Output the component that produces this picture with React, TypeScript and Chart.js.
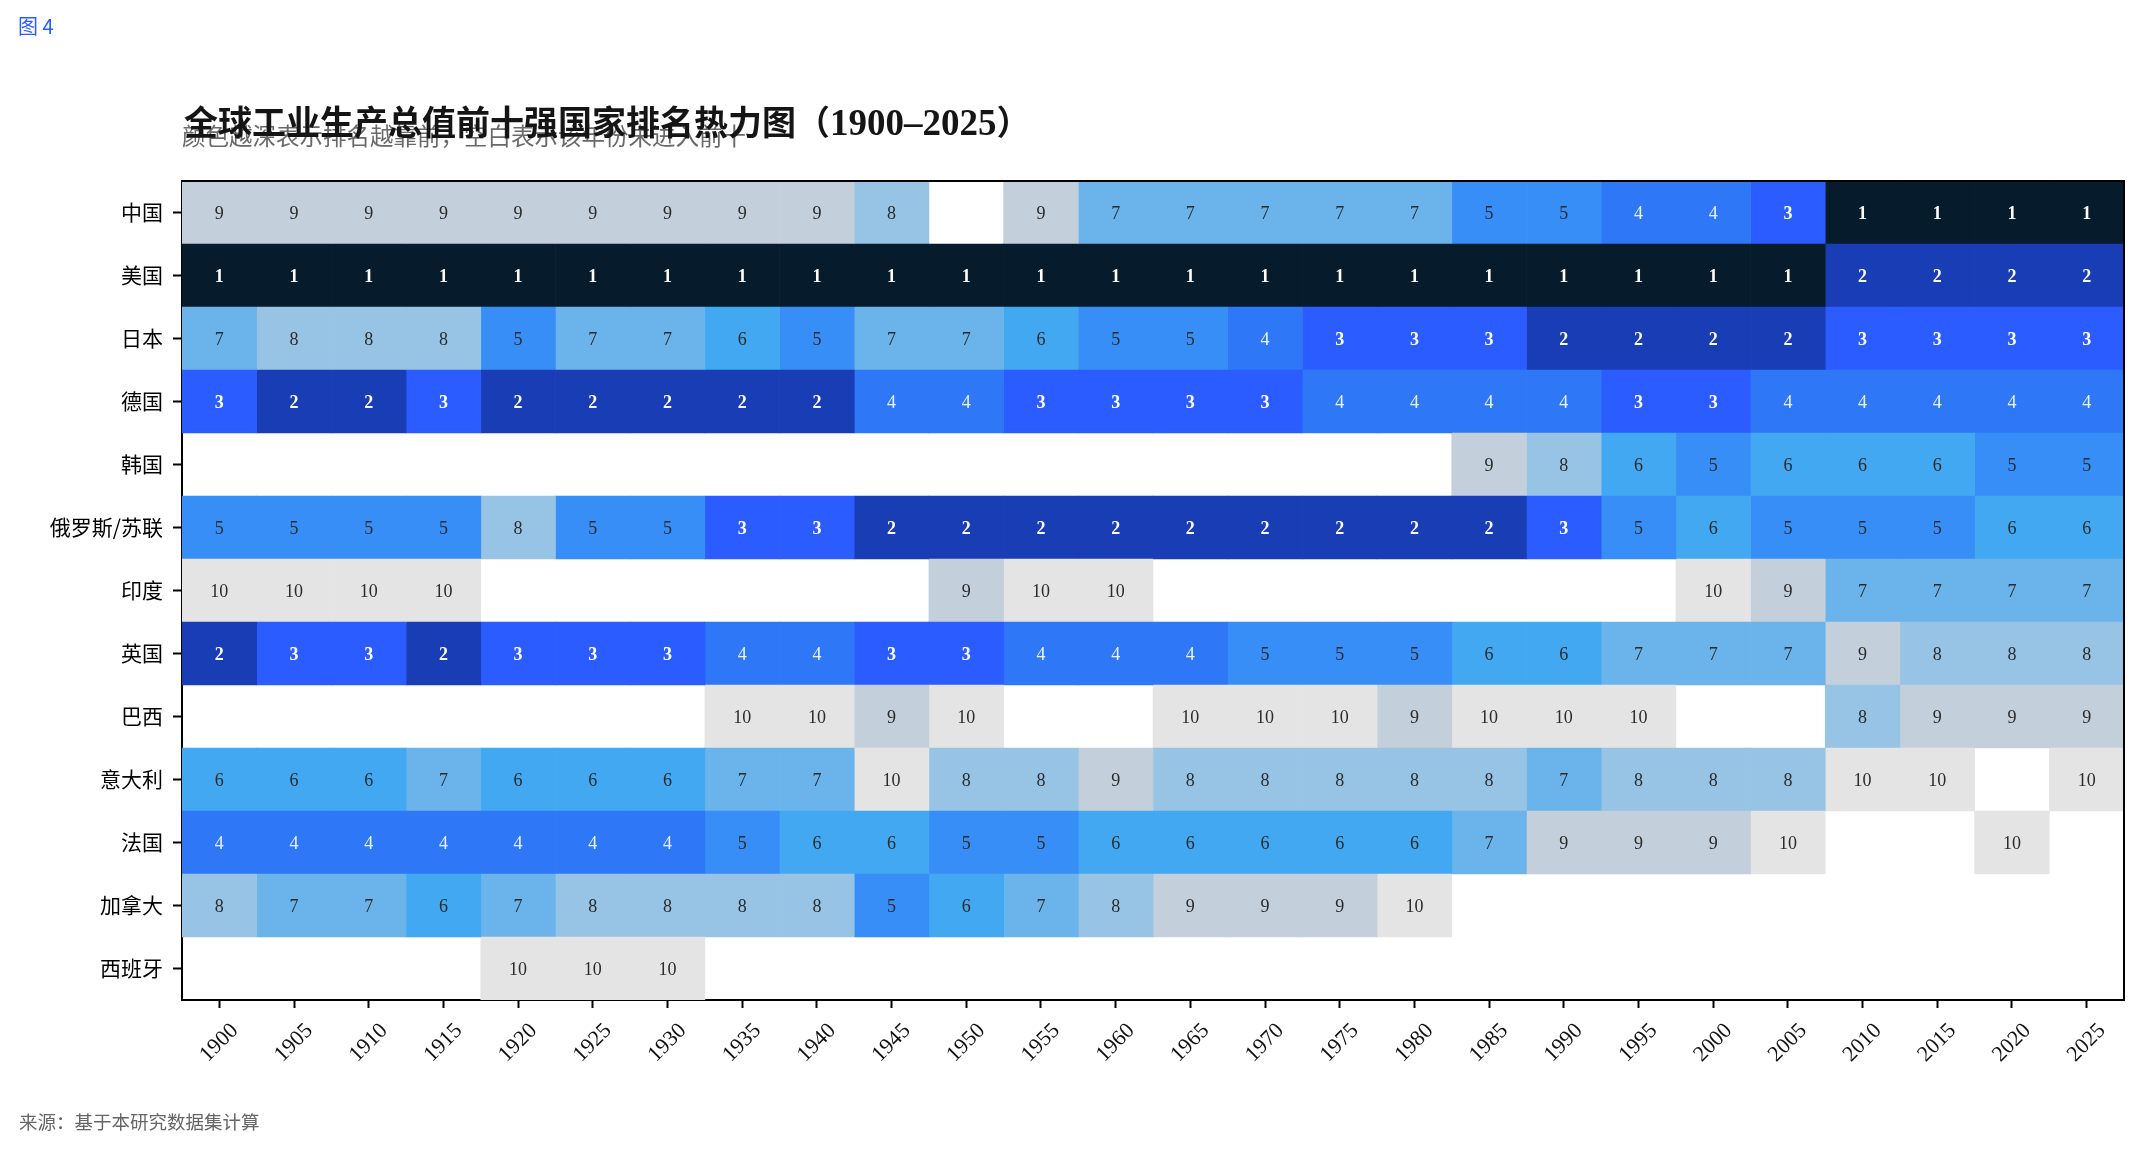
import { useEffect, useRef } from "react";
import { Chart, registerables } from "chart.js";

Chart.register(...registerables);

const W = 2142;
const H = 1152;

// Year columns of the heat map
const years = [
  "1900", "1905", "1910", "1915", "1920", "1925", "1930", "1935", "1940",
  "1945", "1950", "1955", "1960", "1965", "1970", "1975", "1980", "1985",
  "1990", "1995", "2000", "2005", "2010", "2015", "2020", "2025",
];

// Country rows, top to bottom
const countries = [
  "中国", "美国", "日本", "德国", "韩国", "俄罗斯/苏联", "印度",
  "英国", "巴西", "意大利", "法国", "加拿大", "西班牙",
];

// Rank per year (null = outside the top ten)
const _ = null;
const rankChina = [9, 9, 9, 9, 9, 9, 9, 9, 9, 8, _, 9, 7, 7, 7, 7, 7, 5, 5, 4, 4, 3, 1, 1, 1, 1];
const rankUSA = [1, 1, 1, 1, 1, 1, 1, 1, 1, 1, 1, 1, 1, 1, 1, 1, 1, 1, 1, 1, 1, 1, 2, 2, 2, 2];
const rankJapan = [7, 8, 8, 8, 5, 7, 7, 6, 5, 7, 7, 6, 5, 5, 4, 3, 3, 3, 2, 2, 2, 2, 3, 3, 3, 3];
const rankGermany = [3, 2, 2, 3, 2, 2, 2, 2, 2, 4, 4, 3, 3, 3, 3, 4, 4, 4, 4, 3, 3, 4, 4, 4, 4, 4];
const rankKorea = [_, _, _, _, _, _, _, _, _, _, _, _, _, _, _, _, _, 9, 8, 6, 5, 6, 6, 6, 5, 5];
const rankRussia = [5, 5, 5, 5, 8, 5, 5, 3, 3, 2, 2, 2, 2, 2, 2, 2, 2, 2, 3, 5, 6, 5, 5, 5, 6, 6];
const rankIndia = [10, 10, 10, 10, _, _, _, _, _, _, 9, 10, 10, _, _, _, _, _, _, _, 10, 9, 7, 7, 7, 7];
const rankUK = [2, 3, 3, 2, 3, 3, 3, 4, 4, 3, 3, 4, 4, 4, 5, 5, 5, 6, 6, 7, 7, 7, 9, 8, 8, 8];
const rankBrazil = [_, _, _, _, _, _, _, 10, 10, 9, 10, _, _, 10, 10, 10, 9, 10, 10, 10, _, _, 8, 9, 9, 9];
const rankItaly = [6, 6, 6, 7, 6, 6, 6, 7, 7, 10, 8, 8, 9, 8, 8, 8, 8, 8, 7, 8, 8, 8, 10, 10, _, 10];
const rankFrance = [4, 4, 4, 4, 4, 4, 4, 5, 6, 6, 5, 5, 6, 6, 6, 6, 6, 7, 9, 9, 9, 10, _, _, 10, _];
const rankCanada = [8, 7, 7, 6, 7, 8, 8, 8, 8, 5, 6, 7, 8, 9, 9, 9, 10, _, _, _, _, _, _, _, _, _];
const rankSpain = [_, _, _, _, 10, 10, 10, _, _, _, _, _, _, _, _, _, _, _, _, _, _, _, _, _, _, _];

const rankRows = [
  rankChina, rankUSA, rankJapan, rankGermany, rankKorea, rankRussia, rankIndia,
  rankUK, rankBrazil, rankItaly, rankFrance, rankCanada, rankSpain,
];

// Fill colour for ranks 1..10 (darker = higher rank)
const rankColors = [
  "#061b2b", "#193db5", "#2a5cff", "#2e77f6", "#388ef7",
  "#42a8f1", "#6ab4eb", "#97c3e4", "#c3d0dc", "#e4e4e4",
];

const SERIF = '"Liberation Serif", "Times New Roman", serif';
const CJK = '"Noto Sans CJK SC", "Noto Sans", sans-serif';

// Writes the rank number into the middle of every cell
const cellLabels = {
  id: "cellLabels",
  afterDatasetsDraw(chart: any) {
    const ctx = chart.ctx;
    ctx.save();
    ctx.textAlign = "center";
    ctx.textBaseline = "alphabetic";
    chart.data.datasets.forEach((_ds: any, di: number) => {
      const meta = chart.getDatasetMeta(di);
      meta.data.forEach((el: any, ri: number) => {
        const rank = rankRows[ri][di];
        if (rank == null) return;
        const { x, y } = el.getCenterPoint();
        if (rank <= 3) {
          ctx.font = `bold 18px ${SERIF}`;
          ctx.fillStyle = "#ffffff";
        } else if (rank === 4) {
          ctx.font = `18px ${SERIF}`;
          ctx.fillStyle = "rgba(255,255,255,0.9)";
        } else {
          ctx.font = `18px ${SERIF}`;
          ctx.fillStyle = "#2b2b2b";
        }
        ctx.fillText(String(rank), x, y + 6);
      });
    });
    ctx.restore();
  },
};

// Closes the plot frame on the top and right sides
const plotFrame = {
  id: "plotFrame",
  afterDraw(chart: any) {
    const { left, top, right, bottom } = chart.chartArea;
    const ctx = chart.ctx;
    ctx.save();
    ctx.strokeStyle = "#000";
    ctx.lineWidth = 2;
    ctx.beginPath();
    ctx.moveTo(left, top);
    ctx.lineTo(right, top);
    ctx.lineTo(right, bottom);
    ctx.stroke();
    ctx.restore();
  },
};

function HeatMap() {
  const canvasRef = useRef<HTMLCanvasElement | null>(null);

  useEffect(() => {
    const canvas = canvasRef.current;
    if (!canvas) return;

    const datasets = years.map((year, i) => ({
      label: year,
      data: rankRows.map((row) => (row[i] == null ? null : [i - 0.5, i + 0.5])),
      backgroundColor: rankRows.map((row) =>
        row[i] == null ? "rgba(0,0,0,0)" : rankColors[(row[i] as number) - 1]
      ),
      borderWidth: 0,
      grouped: false,
      barPercentage: 1,
      categoryPercentage: 1,
    }));

    const chart = new Chart(canvas, {
      type: "bar",
      data: { labels: countries, datasets: datasets as any },
      plugins: [cellLabels, plotFrame],
      options: {
        indexAxis: "y",
        responsive: false,
        animation: false,
        devicePixelRatio: 1,
        events: [],
        layout: { padding: { left: 0, top: 181, right: 18, bottom: 0 } },
        plugins: {
          legend: { display: false },
          tooltip: { enabled: false },
          title: { display: false },
        },
        scales: {
          x: {
            type: "linear",
            position: "bottom",
            min: -0.5,
            max: 25.5,
            afterBuildTicks: (scale: any) => {
              scale.ticks = years.map((_y, i) => ({ value: i }));
            },
            afterFit: (scale: any) => {
              scale.height = 152;
            },
            grid: {
              display: true,
              drawOnChartArea: false,
              drawTicks: true,
              tickLength: 8,
              tickWidth: 2,
              tickColor: "#000",
            },
            border: { display: true, color: "#000", width: 2 },
            ticks: {
              autoSkip: false,
              minRotation: 45,
              maxRotation: 45,
              labelOffset: 15.5,
              padding: 10,
              color: "#111",
              font: { family: SERIF, size: 22 },
              callback: (v: any) => years[v as number] ?? "",
            },
          },
          y: {
            type: "category",
            position: "left",
            offset: true,
            afterFit: (scale: any) => {
              scale.width = 182;
            },
            grid: {
              display: true,
              drawOnChartArea: false,
              offset: false,
              drawTicks: true,
              tickLength: 9,
              tickWidth: 2,
              tickColor: "#000",
            },
            border: { display: true, color: "#000", width: 2 },
            ticks: {
              autoSkip: false,
              padding: 10,
              color: "#000",
              font: { family: CJK, size: 21 },
            },
          },
        },
      } as any,
    });

    return () => {
      chart.destroy();
    };
  }, []);

  return (
    <canvas
      ref={canvasRef}
      width={W}
      height={H}
      style={{ display: "block", width: W, height: H }}
    />
  );
}

export default function App() {
  return (
    <div
      style={{
        position: "fixed",
        left: 0,
        top: 0,
        width: W,
        height: H,
        background: "#ffffff",
        overflow: "hidden",
      }}
    >
      <HeatMap />
      <div
        style={{
          position: "absolute",
          left: 18,
          top: 16,
          fontFamily: CJK,
          fontSize: 20,
          lineHeight: "20px",
          color: "#2a5cff",
          whiteSpace: "nowrap",
        }}
      >
        图 4
      </div>
      <div
        style={{
          position: "absolute",
          left: 182,
          top: 124,
          fontFamily: CJK,
          fontSize: 23.5,
          lineHeight: "23.5px",
          color: "#6a6a6a",
          whiteSpace: "nowrap",
        }}
      >
        颜色越深表示排名越靠前，空白表示该年份未进入前十
      </div>
      <div
        style={{
          position: "absolute",
          left: 184,
          top: 106,
          fontFamily: `"Liberation Serif", ${CJK}`,
          fontWeight: 700,
          fontSize: 34,
          lineHeight: "34px",
          color: "#151515",
          whiteSpace: "nowrap",
        }}
      >
        全球工业生产总值前十强国家排名热力图（<span style={{ fontSize: 37 }}>1900–2025</span>）
      </div>
      <div
        style={{
          position: "absolute",
          left: 19,
          top: 1112,
          fontFamily: CJK,
          fontSize: 18.5,
          lineHeight: "18.5px",
          color: "#666666",
          whiteSpace: "nowrap",
        }}
      >
        来源：基于本研究数据集计算
      </div>
    </div>
  );
}
